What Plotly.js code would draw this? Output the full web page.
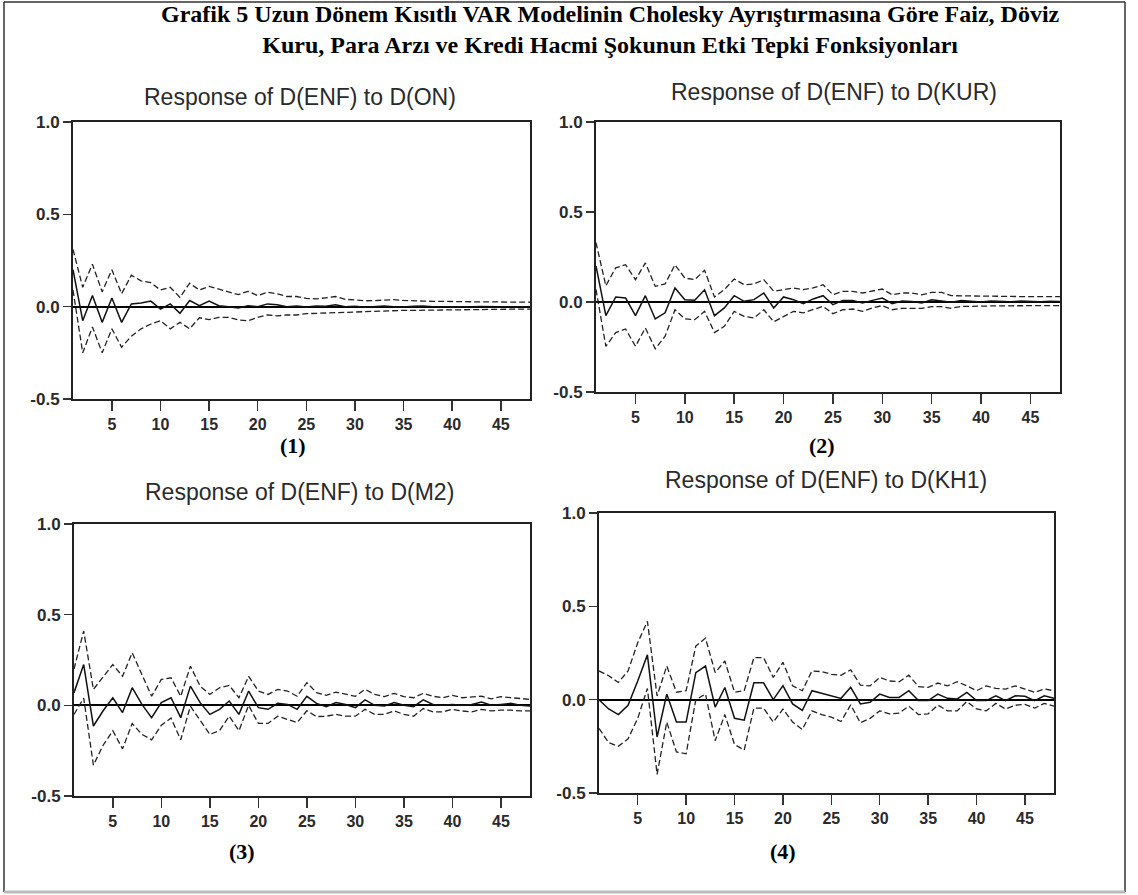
<!DOCTYPE html>
<html>
<head>
<meta charset="utf-8">
<script src="https://cdn.plot.ly/plotly-3.0.1.min.js"></script>
<style>
html,body{margin:0;padding:0;background:#fff;}
#chart{width:1138px;height:895px;}
</style>
</head>
<body>
<div id="chart"></div>
<script>
// Periods 1..48
const periods = [1,2,3,4,5,6,7,8,9,10,11,12,13,14,15,16,17,18,19,20,21,22,23,24,25,26,27,28,29,30,31,32,33,34,35,36,37,38,39,40,41,42,43,44,45,46,47,48];
const xTicks = [5,10,15,20,25,30,35,40,45];
const yTicks = [-0.5,0.0,0.5,1.0];
const yTickText = ["-0.5","0.0","0.5","1.0"];

const mainTitle = "Grafik 5 Uzun Dönem Kısıtlı VAR Modelinin Cholesky Ayrıştırmasına Göre Faiz, Döviz<br>Kuru, Para Arzı ve Kredi Hacmi Şokunun Etki Tepki Fonksiyonları";
const panelTitles = ["Response of D(ENF) to D(ON)","Response of D(ENF) to D(KUR)","Response of D(ENF) to D(M2)","Response of D(ENF) to D(KH1)"];
const panelLabels = ["(1)","(2)","(3)","(4)"];

// Panel 1: D(ON)
const resp1 = [0.20,-0.076,0.06,-0.085,0.047,-0.085,0.015,0.02,0.03,-0.013,0.015,-0.036,0.033,0.005,0.03,0.005,0.0,-0.007,0.005,0.0,0.015,0.01,0.0,0.004,-0.002,0.003,0.002,0.01,0.0,0.002,-0.003,0.002,0.004,0.0,-0.002,0.002,0.003,0.0,-0.001,0.002,0.001,-0.001,0.001,0.002,0.0,-0.001,0.001,0.0];
const up1 = [0.31,0.105,0.23,0.08,0.2,0.07,0.17,0.14,0.13,0.09,0.105,0.05,0.127,0.09,0.11,0.096,0.08,0.065,0.083,0.06,0.078,0.07,0.055,0.055,0.045,0.042,0.048,0.055,0.04,0.034,0.032,0.033,0.034,0.038,0.034,0.03,0.03,0.029,0.03,0.028,0.027,0.027,0.026,0.026,0.025,0.025,0.024,0.024];
const lo1 = [0.09,-0.25,-0.11,-0.25,-0.12,-0.22,-0.16,-0.12,-0.094,-0.076,-0.12,-0.085,-0.12,-0.06,-0.07,-0.058,-0.058,-0.072,-0.076,-0.058,-0.045,-0.05,-0.045,-0.045,-0.038,-0.036,-0.034,-0.03,-0.03,-0.028,-0.027,-0.026,-0.024,-0.022,-0.02,-0.02,-0.019,-0.018,-0.018,-0.017,-0.016,-0.016,-0.015,-0.015,-0.014,-0.014,-0.013,-0.013];

// Panel 2: D(KUR)
const resp2 = [0.2,-0.076,0.028,0.022,-0.076,0.035,-0.094,-0.06,0.078,0.013,0.01,0.068,-0.076,-0.033,0.035,0.004,0.013,0.05,-0.033,0.028,0.013,-0.009,0.017,0.035,-0.015,0.009,0.009,-0.006,0.009,0.022,-0.009,0.005,0.003,-0.005,0.012,0.006,-0.002,0.008,0.004,0.0,0.006,0.003,0.001,0.005,0.003,0.002,0.004,0.003];
const up2 = [0.33,0.09,0.19,0.207,0.124,0.217,0.087,0.1,0.207,0.133,0.124,0.176,0.028,0.069,0.128,0.096,0.1,0.124,0.06,0.069,0.078,0.069,0.078,0.096,0.04,0.059,0.059,0.05,0.059,0.072,0.04,0.05,0.05,0.04,0.054,0.054,0.035,0.035,0.035,0.032,0.032,0.031,0.031,0.03,0.03,0.03,0.03,0.03];
const lo2 = [0.07,-0.246,-0.17,-0.15,-0.246,-0.144,-0.26,-0.19,-0.043,-0.094,-0.098,-0.052,-0.17,-0.135,-0.052,-0.08,-0.089,-0.043,-0.11,-0.08,-0.052,-0.06,-0.043,-0.024,-0.065,-0.043,-0.039,-0.052,-0.033,-0.02,-0.043,-0.035,-0.035,-0.035,-0.026,-0.026,-0.035,-0.024,-0.024,-0.022,-0.022,-0.021,-0.021,-0.02,-0.02,-0.02,-0.02,-0.02];

// Panel 3: D(M2)
const resp3 = [0.07,0.225,-0.114,-0.03,0.042,-0.04,0.097,0.005,-0.068,0.015,0.042,-0.068,0.106,0.015,-0.05,-0.022,0.024,-0.05,0.079,-0.013,-0.022,0.011,0.005,-0.022,0.05,0.011,-0.007,0.015,0.005,-0.013,0.03,0.0,-0.004,0.015,0.0,-0.007,0.03,0.005,0.0,0.005,0.0,0.005,0.018,0.0,0.005,0.011,0.0,-0.004];
const up3 = [0.2,0.41,0.088,0.16,0.225,0.16,0.29,0.17,0.05,0.143,0.152,0.05,0.216,0.106,0.06,0.097,0.11,0.042,0.16,0.079,0.06,0.088,0.079,0.05,0.125,0.07,0.055,0.073,0.06,0.05,0.088,0.06,0.048,0.066,0.048,0.042,0.066,0.05,0.042,0.055,0.042,0.048,0.05,0.036,0.048,0.042,0.036,0.033];
const lo3 = [-0.05,0.04,-0.33,-0.22,-0.14,-0.24,-0.1,-0.16,-0.19,-0.11,-0.07,-0.19,-0.005,-0.08,-0.16,-0.14,-0.06,-0.14,0.0,-0.1,-0.1,-0.06,-0.077,-0.095,-0.03,-0.062,-0.06,-0.05,-0.06,-0.06,-0.022,-0.05,-0.05,-0.031,-0.05,-0.06,-0.018,-0.036,-0.036,-0.022,-0.031,-0.036,-0.022,-0.031,-0.026,-0.026,-0.031,-0.031];

// Panel 4: D(KH1)
const resp4 = [0.0,-0.05,-0.08,-0.03,0.1,0.24,-0.2,0.03,-0.12,-0.12,0.145,0.18,-0.04,0.065,-0.1,-0.11,0.09,0.09,0.0,0.075,-0.023,-0.058,0.048,0.035,0.021,0.007,0.066,-0.023,-0.014,0.03,0.012,0.012,0.048,-0.005,-0.005,0.03,0.007,0.004,0.039,-0.005,-0.005,0.021,-0.005,0.021,0.018,-0.005,0.021,0.007];
const up4 = [0.154,0.128,0.092,0.154,0.305,0.42,0.02,0.18,0.04,0.048,0.287,0.33,0.145,0.207,0.04,0.048,0.225,0.225,0.119,0.2,0.074,0.048,0.154,0.15,0.136,0.131,0.16,0.078,0.074,0.119,0.1,0.096,0.131,0.07,0.066,0.089,0.074,0.096,0.074,0.048,0.074,0.06,0.057,0.074,0.057,0.039,0.057,0.048];
const lo4 = [-0.154,-0.23,-0.25,-0.21,-0.1,0.06,-0.4,-0.12,-0.28,-0.29,0.0,0.03,-0.22,-0.08,-0.24,-0.27,-0.045,-0.045,-0.12,-0.05,-0.12,-0.16,-0.06,-0.08,-0.094,-0.117,-0.028,-0.124,-0.1,-0.06,-0.076,-0.072,-0.035,-0.08,-0.076,-0.029,-0.06,-0.06,-0.01,-0.05,-0.06,-0.02,-0.05,-0.03,-0.025,-0.045,-0.02,-0.035];

const W = 1138, H = 895;
// pixel boxes of the plot areas [left, right, top, bottom]
const boxes = [[73,530,122,399],[596,1060,122,392],[74,530,524,796],[599,1054,513,793]];
const titlePos = [[300,97],[834,92],[299,492],[826,480]];
const labelPos = [[293,445],[822,445],[242,851],[783,851]];

const series = [[resp1,up1,lo1],[resp2,up2,lo2],[resp3,up3,lo3],[resp4,up4,lo4]];
const traces = [];
const sans = 'Liberation Sans, Arial, sans-serif';
const serif = 'Liberation Serif, Times New Roman, serif';
const layout = {
  width: W, height: H,
  margin: {l:0,r:0,t:0,b:0},
  paper_bgcolor: '#ffffff', plot_bgcolor: '#ffffff',
  showlegend: false,
  font: {family: sans, color: '#333'},
  annotations: [], shapes: []
};

series.forEach((s, i) => {
  const n = i + 1;
  const xa = n === 1 ? 'x' : 'x' + n;
  const ya = n === 1 ? 'y' : 'y' + n;
  traces.push({x: periods, y: s[1], xaxis: xa, yaxis: ya, mode: 'lines', line: {color: '#222', width: 1.3, dash: '6px,3px'}, hoverinfo: 'skip'});
  traces.push({x: periods, y: s[2], xaxis: xa, yaxis: ya, mode: 'lines', line: {color: '#222', width: 1.3, dash: '6px,3px'}, hoverinfo: 'skip'});
  traces.push({x: periods, y: s[0], xaxis: xa, yaxis: ya, mode: 'lines', line: {color: '#111', width: 1.5}, hoverinfo: 'skip'});
  const b = boxes[i];
  const xk = n === 1 ? 'xaxis' : 'xaxis' + n;
  const yk = n === 1 ? 'yaxis' : 'yaxis' + n;
  layout[xk] = {
    domain: [b[0] / W, b[1] / W], anchor: ya, range: [1, 48],
    tickvals: xTicks, ticks: 'outside', ticklen: 10, tickwidth: 1.5, tickcolor: '#333',
    showline: true, mirror: true, linecolor: '#222', linewidth: 2,
    showgrid: false, zeroline: false,
    tickfont: {size: 16, color: '#2a2a2a', family: sans, weight: 'bold'}
  };
  layout[yk] = {
    domain: [1 - b[3] / H, 1 - b[2] / H], anchor: xa, range: [-0.5, 1.0],
    tickvals: yTicks, ticktext: yTickText, ticks: 'outside', ticklen: 8, tickwidth: 1.5, tickcolor: '#333',
    showline: true, mirror: true, linecolor: '#222', linewidth: 2,
    showgrid: false, zeroline: true, zerolinecolor: '#000', zerolinewidth: 1.7,
    tickfont: {size: 17, color: '#2a2a2a', family: sans, weight: 'bold'}
  };
  layout.annotations.push({
    text: panelTitles[i], xref: 'paper', yref: 'paper',
    x: titlePos[i][0] / W, y: 1 - titlePos[i][1] / H, xanchor: 'center', yanchor: 'middle',
    showarrow: false, font: {size: 23, color: '#2a2a2a', family: sans}
  });
  layout.annotations.push({
    text: '<b>' + panelLabels[i] + '</b>', xref: 'paper', yref: 'paper',
    x: labelPos[i][0] / W, y: 1 - labelPos[i][1] / H, xanchor: 'center', yanchor: 'middle',
    showarrow: false, font: {size: 22, color: '#000', family: serif}
  });
});

layout.annotations.push({
  text: '<b>' + mainTitle + '</b>', xref: 'paper', yref: 'paper',
  x: 610 / W, y: 1 - 30 / H, xanchor: 'center', yanchor: 'middle', align: 'center',
  showarrow: false, font: {size: 24, color: '#000', family: serif}
});

// outer frame
layout.shapes.push({type: 'line', xref: 'paper', yref: 'paper', x0: 4 / W, x1: 1125 / W, y0: 1 - 2 / H, y1: 1 - 2 / H, line: {color: '#333', width: 1.5}});
layout.shapes.push({type: 'line', xref: 'paper', yref: 'paper', x0: 4 / W, x1: 4 / W, y0: 1 - 2 / H, y1: 1 - 892 / H, line: {color: '#333', width: 1.5}});
layout.shapes.push({type: 'line', xref: 'paper', yref: 'paper', x0: 1125 / W, x1: 1125 / W, y0: 1 - 2 / H, y1: 1 - 892 / H, line: {color: '#333', width: 1.5}});
layout.shapes.push({type: 'line', xref: 'paper', yref: 'paper', x0: 4 / W, x1: 1125 / W, y0: 1 - 892 / H, y1: 1 - 892 / H, line: {color: '#bbb', width: 3}});

Plotly.newPlot('chart', traces, layout, {staticPlot: true, displayModeBar: false});
</script>
</body>
</html>
